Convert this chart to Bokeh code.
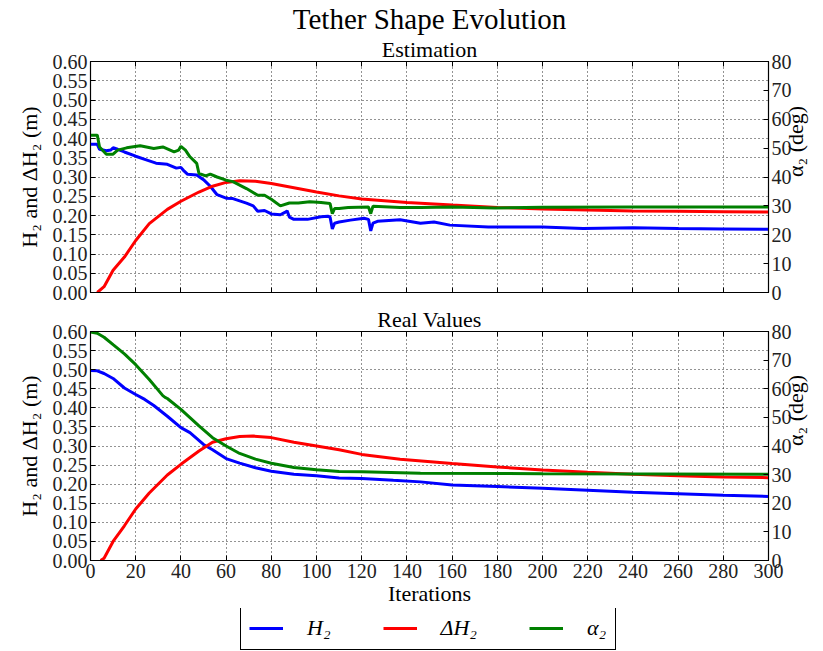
import math
from bokeh.plotting import figure
from bokeh.models import (LinearAxis, Range1d, Title, Legend, LegendItem,
                          FixedTicker, PrintfTickFormatter, Grid)
from bokeh.layouts import column
from bokeh.embed import file_html
from bokeh.resources import INLINE

FONT = "Liberation Serif"

# ---------------- data ----------------
x_ticks = list(range(0, 301, 20))
left_ticks = [round(0.05 * i, 2) for i in range(13)]
right_ticks = list(range(0, 81, 10))

# Estimation
est_h2_it = [0, 3, 4, 7, 9, 10, 12, 15, 20, 25, 29, 34, 38, 40, 41, 43, 47, 50, 53, 56, 60, 63, 66, 69,
             72, 74, 77, 80, 84, 86, 87, 88, 90, 96, 102, 105, 106, 107, 108, 110, 115, 121, 123, 124,
             125, 127, 137, 146, 152, 159, 176, 200, 218, 240, 260, 280, 300]
est_h2 = [0.385, 0.385, 0.372, 0.368, 0.370, 0.376, 0.372, 0.365, 0.354, 0.344, 0.336, 0.333, 0.323,
          0.325, 0.318, 0.307, 0.305, 0.293, 0.276, 0.254, 0.245, 0.244, 0.238, 0.232, 0.225, 0.211,
          0.213, 0.204, 0.202, 0.208, 0.212, 0.196, 0.190, 0.190, 0.197, 0.198, 0.196, 0.165, 0.180,
          0.183, 0.188, 0.193, 0.190, 0.160, 0.180, 0.185, 0.189, 0.180, 0.183, 0.175, 0.170, 0.170,
          0.166, 0.168, 0.166, 0.165, 0.164]

est_dh_it = [3, 6, 10, 15, 20, 26, 34, 40, 48, 54, 60, 66, 73, 80, 90, 100, 110, 120, 140, 160, 180,
             200, 220, 240, 260, 280, 300]
est_dh = [0.0, 0.015, 0.058, 0.092, 0.135, 0.179, 0.216, 0.237, 0.261, 0.276, 0.286, 0.290, 0.289,
          0.283, 0.272, 0.261, 0.251, 0.243, 0.234, 0.227, 0.221, 0.217, 0.214, 0.212, 0.211, 0.210,
          0.209]

est_a_it = [0, 3, 4, 7, 10, 12, 16, 22, 28, 32, 37, 39, 40, 42, 44, 47, 48, 51, 53, 56, 60, 63, 69, 74,
            77, 80, 84, 88, 92, 97, 102, 106, 107, 108, 110, 114, 123, 124, 125, 137, 146, 160, 179,
            200, 240, 300]
est_a = [54.5, 54.5, 50.4, 47.9, 47.9, 49.3, 50.1, 50.8, 49.9, 50.4, 48.7, 49.3, 50.6, 49.3, 47.0,
         44.7, 41.2, 40.4, 41.0, 40.0, 38.9, 38.4, 36.0, 33.7, 33.7, 32.3, 30.0, 31.0, 31.0, 31.4,
         31.2, 30.8, 27.3, 29.1, 29.1, 29.4, 29.6, 27.3, 29.9, 29.4, 29.4, 29.6, 29.3, 29.5, 29.6, 29.6]

# Real values
real_h2_it = [0, 3, 6, 10, 15, 20, 24, 28, 34, 40, 44, 50, 54, 60, 66, 73, 80, 90, 100, 110, 120, 134,
              146, 160, 180, 200, 220, 240, 260, 280, 300]
real_h2 = [0.498, 0.497, 0.490, 0.477, 0.452, 0.435, 0.422, 0.406, 0.378, 0.348, 0.335, 0.304, 0.290,
           0.267, 0.255, 0.243, 0.234, 0.226, 0.222, 0.216, 0.215, 0.210, 0.206, 0.198, 0.194, 0.189,
           0.184, 0.179, 0.175, 0.171, 0.168]

real_dh_it = [4.5, 6, 10, 15, 20, 26, 34, 40, 48, 54, 60, 66, 72, 80, 90, 100, 110, 120, 137, 160, 180,
              200, 220, 240, 260, 280, 300]
real_dh = [0.0, 0.006, 0.050, 0.091, 0.135, 0.177, 0.224, 0.252, 0.287, 0.310, 0.319, 0.325, 0.326,
           0.322, 0.310, 0.300, 0.290, 0.278, 0.265, 0.254, 0.245, 0.237, 0.231, 0.226, 0.222, 0.219,
           0.217]

real_a_it = [0, 3, 6, 10, 15, 20, 26, 32, 33, 34, 40, 48, 54, 60, 66, 73, 80, 90, 100, 110, 120, 146,
             200, 300]
real_a = [79.8, 79.4, 78.0, 75.4, 72.2, 68.4, 63.2, 57.6, 57.0, 56.6, 52.8, 47.0, 42.9, 40.0, 37.4,
          35.4, 34.0, 32.5, 31.7, 31.1, 31.0, 30.5, 30.3, 30.1]

legend_labels = ["H₂", "ΔH₂", "α₂"]

BLUE, RED, GREEN = "#0000ff", "#ff0000", "#008000"
COLORS = [BLUE, RED, GREEN]
LW = 3


def style_axis(ax, labels=True):
    ax.major_tick_in = 5
    ax.major_tick_out = 0
    ax.minor_tick_line_color = None
    ax.axis_line_color = "black"
    ax.major_tick_line_color = "black"
    ax.major_label_text_font = FONT
    ax.axis_label_text_font = FONT
    ax.axis_label_text_font_size = "22px"
    ax.axis_label_text_font_style = "normal"
    ax.axis_label_text_color = "black"
    ax.axis_label_standoff = 0
    if labels:
        ax.major_label_text_font_size = "20px"
        ax.major_label_text_color = "#222222"
        ax.major_label_standoff = 3
    else:
        ax.major_label_text_font_size = "1px"
        ax.major_label_text_color = None
        ax.major_label_standoff = 0


def make_panel(h2x, h2y, dhx, dhy, ax_, ay_, height, top, bottom, xlabels):
    p = figure(width=823, height=height, x_range=Range1d(0, 300), y_range=Range1d(0, 0.6),
               output_backend="svg", toolbar_location=None, x_axis_location=None,
               y_axis_location=None, min_border_left=90, min_border_right=53,
               min_border_top=top, min_border_bottom=bottom,
               background_fill_color="white", border_fill_color="white",
               outline_line_color="black", outline_line_width=1.2)
    p.center = []
    p.extra_y_ranges = {"deg": Range1d(0, 80)}

    xt = FixedTicker(ticks=x_ticks)
    lt = FixedTicker(ticks=left_ticks)
    rt = FixedTicker(ticks=right_ticks)

    left = LinearAxis(ticker=lt, formatter=PrintfTickFormatter(format="%.2f"),
                      axis_label="H₂ and ΔH₂ (m)")
    style_axis(left)
    left.axis_label_standoff = 8
    p.add_layout(left, "left")

    right = LinearAxis(ticker=rt, y_range_name="deg", axis_label="α₂ (deg)")
    style_axis(right)
    right.axis_label_standoff = 1
    if "axis_label_orientation" in LinearAxis.properties():
        right.axis_label_orientation = math.pi / 2
    p.add_layout(right, "right")

    below = LinearAxis(ticker=xt)
    style_axis(below, labels=xlabels)
    if xlabels:
        below.axis_label = "Iterations"
        below.axis_label_standoff = 0
    p.add_layout(below, "below")

    above = LinearAxis(ticker=xt)
    style_axis(above, labels=False)
    p.add_layout(above, "above")

    p.add_layout(Grid(dimension=0, ticker=xt, grid_line_color="black",
                      grid_line_dash="1 3", grid_line_width=1, grid_line_alpha=0.85))
    p.add_layout(Grid(dimension=1, ticker=lt, grid_line_color="black",
                      grid_line_dash="1 3", grid_line_width=1, grid_line_alpha=0.85))

    r1 = p.line(h2x, h2y, line_color=BLUE, line_width=LW)
    r2 = p.line(dhx, dhy, line_color=RED, line_width=LW)
    r3 = p.line(ax_, ay_, line_color=GREEN, line_width=LW, y_range_name="deg")
    return p, (r1, r2, r3)


p1, _ = make_panel(est_h2_it, est_h2, est_dh_it, est_dh, est_a_it, est_a,
                   height=302, top=61, bottom=10, xlabels=False)
p1.add_layout(Title(text="Estimation", align="center", text_font=FONT,
                    text_font_size="22px", text_font_style="normal", standoff=0,
                    text_color="black"), "above")
p1.add_layout(Title(text="Tether Shape Evolution", align="center", text_font=FONT,
                    text_font_size="29px", text_font_style="normal", standoff=0,
                    text_color="black"), "above")

p2, rs = make_panel(real_h2_it, real_h2, real_dh_it, real_dh, real_a_it, real_a,
                    height=306, top=29, bottom=46, xlabels=True)
p2.add_layout(Title(text="Real Values", align="center", text_font=FONT,
                    text_font_size="22px", text_font_style="normal", standoff=0,
                    text_color="black"), "above")

# legend strip (its own small canvas, series kept out of its visible range)
p3 = figure(width=823, height=42, x_range=Range1d(1000, 1001), y_range=Range1d(1000, 1001),
            output_backend="svg", toolbar_location=None, x_axis_location=None,
            y_axis_location=None, min_border=0, min_border_left=0, min_border_right=0,
            min_border_top=0, min_border_bottom=0, outline_line_color=None,
            background_fill_color="white", border_fill_color="white")
p3.center = []
lr = [p3.line(real_h2_it, real_h2, line_color=COLORS[0], line_width=LW),
      p3.line(real_dh_it, real_dh, line_color=COLORS[1], line_width=LW),
      p3.line(real_a_it, real_a, line_color=COLORS[2], line_width=LW)]
legend = Legend(items=[LegendItem(label=legend_labels[i], renderers=[lr[i]]) for i in range(3)],
                orientation="horizontal", location=(150, 0),
                label_text_font=FONT, label_text_font_size="22px",
                label_text_font_style="italic", label_text_color="black",
                glyph_width=34, glyph_height=20,
                label_standoff=24, spacing=52, padding=8,
                border_line_color="black", border_line_width=1.2, border_line_alpha=1.0,
                background_fill_color="white", background_fill_alpha=1.0)
p3.add_layout(legend)

layout = column(p1, p2, p3)
open("out.html", "w").write(file_html(layout, INLINE))
